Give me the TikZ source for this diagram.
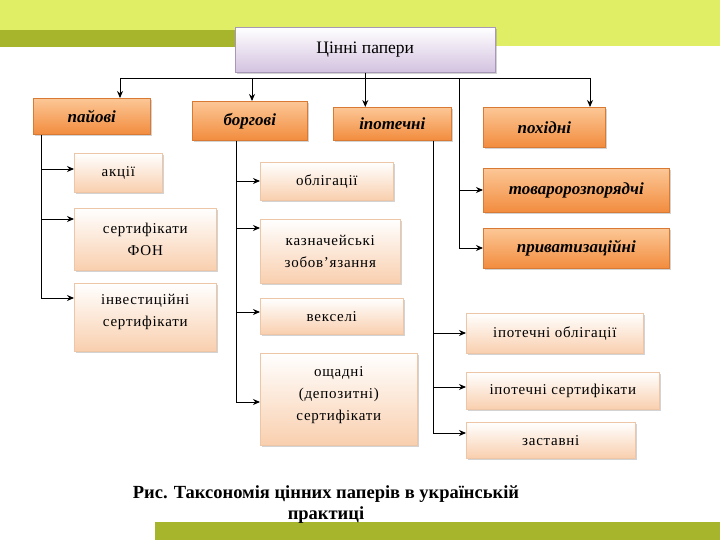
\documentclass[tikz,border=0pt]{standalone}
\usepackage{fontspec}
\setmainfont{Liberation Serif}
\newfontfamily\spacedserif[LetterSpace=5]{Liberation Serif}
\usetikzlibrary{shadows,arrows.meta,calc}
\definecolor{lightband}{HTML}{E0EE66}
\definecolor{oliveband}{HTML}{A6B52C}
\definecolor{orTop}{HTML}{FCC796}
\definecolor{orBot}{HTML}{F28C3E}
\definecolor{orDraw}{HTML}{D97A34}
\definecolor{pcTop}{HTML}{FFFFFF}
\definecolor{pcBot}{HTML}{F9CFAE}
\definecolor{pcDraw}{HTML}{EDC6A8}
\definecolor{lvBot}{HTML}{D3C2E0}
\definecolor{lvDraw}{HTML}{A898B8}
\tikzset{
  boxbase/.style={anchor=north west, inner sep=0pt, align=center,
    drop shadow={opacity=0.35, shadow xshift=1.5pt, shadow yshift=-1.5pt}},
  orbox/.style={boxbase, draw=orDraw, line width=0.6pt, top color=orTop, bottom color=orBot,
    font=\fontsize{17}{19}\selectfont\bfseries\itshape},
  pcbox/.style={boxbase, draw=pcDraw, line width=0.6pt, top color=pcTop, bottom color=pcBot,
    font=\spacedserif\fontsize{15}{22}\selectfont},
  titlebox/.style={boxbase, draw=lvDraw, line width=0.6pt, top color=white, bottom color=lvBot,
    font=\fontsize{17.5}{20}\selectfont},
  conn/.style={line width=0.9pt, black},
  arr/.style={conn, -{Stealth[length=7pt,width=6pt]}}
}
\begin{document}
\begin{tikzpicture}[x=1pt,y=-1pt]
\useasboundingbox (0,0) rectangle (720,540);
% background bands
\fill[lightband] (0,0) rectangle (720,46);
\fill[oliveband] (0,30) rectangle (240,47);
\fill[oliveband] (155,522) rectangle (720,540);

% title
\node[titlebox, minimum width=260pt, minimum height=45pt] (title) at (235,27) {Цінні папери};

% main categories
\node[orbox, minimum width=117pt, minimum height=36pt] (pay) at (33,98) {пайові};
\node[orbox, minimum width=115pt, minimum height=39pt] (borg) at (192,101) {боргові};
\node[orbox, minimum width=118pt, minimum height=33pt] (ipot) at (333,107) {іпотечні};
\node[orbox, minimum width=122pt, minimum height=40pt] (pokh) at (483,107) {похідні};
\node[orbox, minimum width=186pt, minimum height=44pt] (tovar) at (483,168) {товаророзпорядчі};
\node[orbox, minimum width=186pt, minimum height=40pt] (pryv) at (483,228) {приватизаційні};

% sub-boxes
\node[pcbox, minimum width=88pt, minimum height=39pt] (akcii) at (74,153) {акції};
\node[pcbox, minimum width=142pt, minimum height=62pt] (fon) at (74,208) {сертифікати\\ФОН};
\node[pcbox, minimum width=142pt, minimum height=68pt] (inv) at (74,283) {інвестиційні\\сертифікати\\[-8pt]\mbox{}};
\node[pcbox, minimum width=133pt, minimum height=38pt] (obl) at (260,162) {облігації};
\node[pcbox, minimum width=140pt, minimum height=64pt] (kazn) at (260,219) {казначейські\\зобов’язання};
\node[pcbox, minimum width=143pt, minimum height=36pt] (veks) at (260,298) {векселі};
\node[pcbox, minimum width=157pt, minimum height=92pt] (oshch) at (260,353) {ощадні\\(депозитні)\\сертифікати\\[-10pt]\mbox{}};
\node[pcbox, minimum width=177pt, minimum height=40pt] (ipobl) at (466,313) {іпотечні облігації};
\node[pcbox, minimum width=193pt, minimum height=37pt] (ipsert) at (466,372) {іпотечні сертифікати};
\node[pcbox, minimum width=169pt, minimum height=36pt] (zast) at (466,422) {заставні};

% caption
\node[font=\fontsize{18.5}{21}\selectfont\bfseries, align=center] (cap) at (326,505)
  {Рис. Таксономія цінних паперів в українській\\практиці};

% top connectors
\coordinate (hub) at (title.south |- 0,78);
\draw[conn] (title.south) -- (hub);
\draw[conn] (120,78) -- (590,78);
\draw[arr] (120,78) -- (pay.north -| 120,0);
\draw[arr] (252,78) -- (borg.north -| 252,0);
\draw[arr] (hub) -- (ipot.north -| hub);
\draw[arr] (590,78) -- (pokh.north -| 590,0);
\coordinate (dtr) at (459,78);
\draw[conn] (dtr) -- (459,248);
\draw[arr] (459,190) -- (tovar.west |- 0,190);
\draw[arr] (459,248) -- (pryv.west |- 0,248);

% pay trunk
\coordinate (ptr) at (41,0);
\draw[conn] (pay.south -| ptr) -- (41,298);
\draw[arr] (41,169) -- (akcii.west |- 0,169);
\draw[arr] (41,219) -- (fon.west |- 0,219);
\draw[arr] (41,298) -- (inv.west |- 0,298);

% borg trunk
\coordinate (btr) at (236,0);
\draw[conn] (borg.south -| btr) -- (236,402);
\draw[arr] (236,181) -- (obl.west |- 0,181);
\draw[arr] (236,228) -- (kazn.west |- 0,228);
\draw[arr] (236,312) -- (veks.west |- 0,312);
\draw[arr] (236,402) -- (oshch.west |- 0,402);

% ipot trunk
\coordinate (itr) at (433,0);
\draw[conn] (ipot.south -| itr) -- (433,433);
\draw[arr] (433,333) -- (ipobl.west |- 0,333);
\draw[arr] (433,387) -- (ipsert.west |- 0,387);
\draw[arr] (433,433) -- (zast.west |- 0,433);
\end{tikzpicture}
\end{document}
